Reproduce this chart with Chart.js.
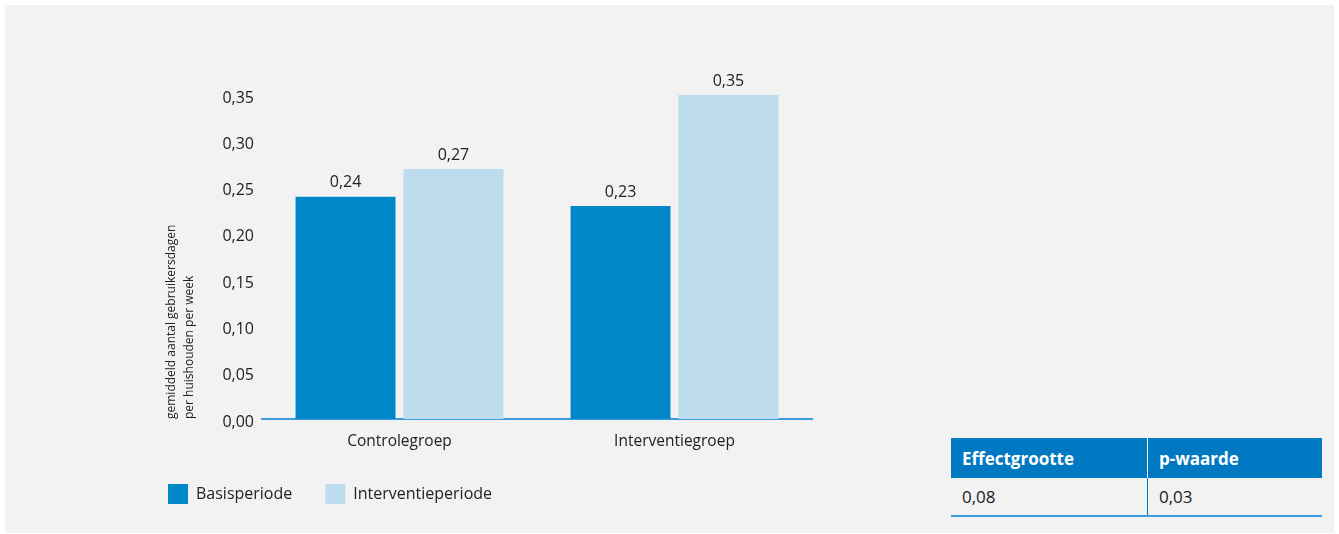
<!DOCTYPE html>
<html lang="nl">
<head>
<meta charset="utf-8">
<title>Gebruikersdagen per huishouden</title>
<script src="https://cdn.jsdelivr.net/npm/chart.js@4/dist/chart.umd.min.js"></script>
<style>
  html, body { margin: 0; padding: 0; background: #ffffff; }
  body { width: 1339px; height: 534px; position: relative; overflow: hidden; font-family: "Open Sans", sans-serif; }
  .panel { position: absolute; left: 5px; top: 5px; width: 1329px; height: 528px; background: #f2f2f2; }
  .chart-box { position: absolute; left: 0; top: 0; width: 830px; height: 528px; }
  table.stats { position: absolute; left: 946px; top: 433px; width: 371px; border-collapse: collapse; font-size: 17px; color: #1a1a1a; }
  table.stats th { background: #0079c2; color: #fff; font-weight: 700; text-align: left; height: 40px; padding: 0 0 0 11px; }
  table.stats th + th { border-left: 1px solid #ffffff; }
  table.stats td { height: 37px; padding: 0 0 0 11px; border-bottom: 2px solid #3d9be0; }
  table.stats td + td { border-left: 1px solid #0079c2; }
  table.stats th:first-child, table.stats td:first-child { width: 185px; }
</style>
</head>
<body>
<div class="panel">
  <div class="chart-box"><canvas id="chart"></canvas></div>
  <table class="stats">
    <thead><tr id="statsHead"></tr></thead>
    <tbody><tr id="statsBody"></tr></tbody>
  </table>
</div>
<script>
const categories = ['Controlegroep', 'Interventiegroep'];
const basisperiode = [0.24, 0.23];
const interventieperiode = [0.27, 0.35];
const yTickValues = [0, 0.05, 0.10, 0.15, 0.20, 0.25, 0.30, 0.35];
const tableHeaders = ['Effectgrootte', 'p-waarde'];
const tableValues = ['0,08', '0,03'];

const FONT = '"Open Sans", sans-serif';
const fmt = v => v.toFixed(2).replace('.', ',');

// stats table
tableHeaders.forEach(h => {
  const th = document.createElement('th');
  th.textContent = h;
  document.getElementById('statsHead').appendChild(th);
});
tableValues.forEach(v => {
  const td = document.createElement('td');
  td.textContent = v;
  document.getElementById('statsBody').appendChild(td);
});

// values above the bars
const barLabels = {
  id: 'barLabels',
  afterDatasetsDraw(chart) {
    const ctx = chart.ctx;
    ctx.save();
    ctx.font = '16px ' + FONT;
    ctx.fillStyle = '#222222';
    ctx.textAlign = 'center';
    ctx.textBaseline = 'bottom';
    chart.data.datasets.forEach((ds, i) => {
      chart.getDatasetMeta(i).data.forEach((bar, j) => {
        ctx.fillText(fmt(ds.data[j]), bar.x, bar.y - 6);
      });
    });
    ctx.restore();
  }
};

const ctx = document.getElementById('chart').getContext('2d');
new Chart(ctx, {
  type: 'bar',
  data: {
    labels: categories,
    datasets: [{
      label: 'Basisperiode',
      data: basisperiode,
      backgroundColor: '#0088c9',
      categoryPercentage: 0.785,
      barPercentage: 0.926
    }, {
      label: 'Interventieperiode',
      data: interventieperiode,
      backgroundColor: '#bddcee',
      categoryPercentage: 0.785,
      barPercentage: 0.926
    }]
  },
  options: {
    responsive: true,
    maintainAspectRatio: false,
    animation: false,
    layout: { padding: { left: 130, right: 23, top: 90, bottom: 19 } },
    scales: {
      x: {
        grid: { display: false, drawTicks: false },
        border: { display: true, color: '#3d9be0', width: 2 },
        ticks: { color: '#222222', font: { family: FONT, size: 15.5 }, padding: 13 },
        afterFit: scale => { scale.height = 32; }
      },
      y: {
        min: 0,
        max: 0.35,
        grid: { display: false, drawTicks: false },
        border: { display: false },
        afterBuildTicks: scale => { scale.ticks = yTickValues.map(v => ({ value: v })); },
        ticks: { color: '#222222', font: { family: FONT, size: 16 }, padding: 8, labelOffset: 3, callback: v => fmt(v) },
        title: {
          display: true,
          text: ['gemiddeld aantal gebruikersdagen', 'per huishouden per week'],
          align: 'start',
          color: '#222222',
          font: { family: FONT, size: 12, lineHeight: 1.45 },
          padding: { top: 28, bottom: 0 }
        },
        afterFit: scale => { scale.width = 127; }
      }
    },
    plugins: {
      legend: {
        position: 'bottom',
        align: 'start',
        labels: {
          boxWidth: 20,
          boxHeight: 20,
          padding: 33,
          color: '#222222',
          font: { family: FONT, size: 16 }
        }
      },
      tooltip: { enabled: false }
    }
  },
  plugins: [barLabels]
});
</script>
</body>
</html>
